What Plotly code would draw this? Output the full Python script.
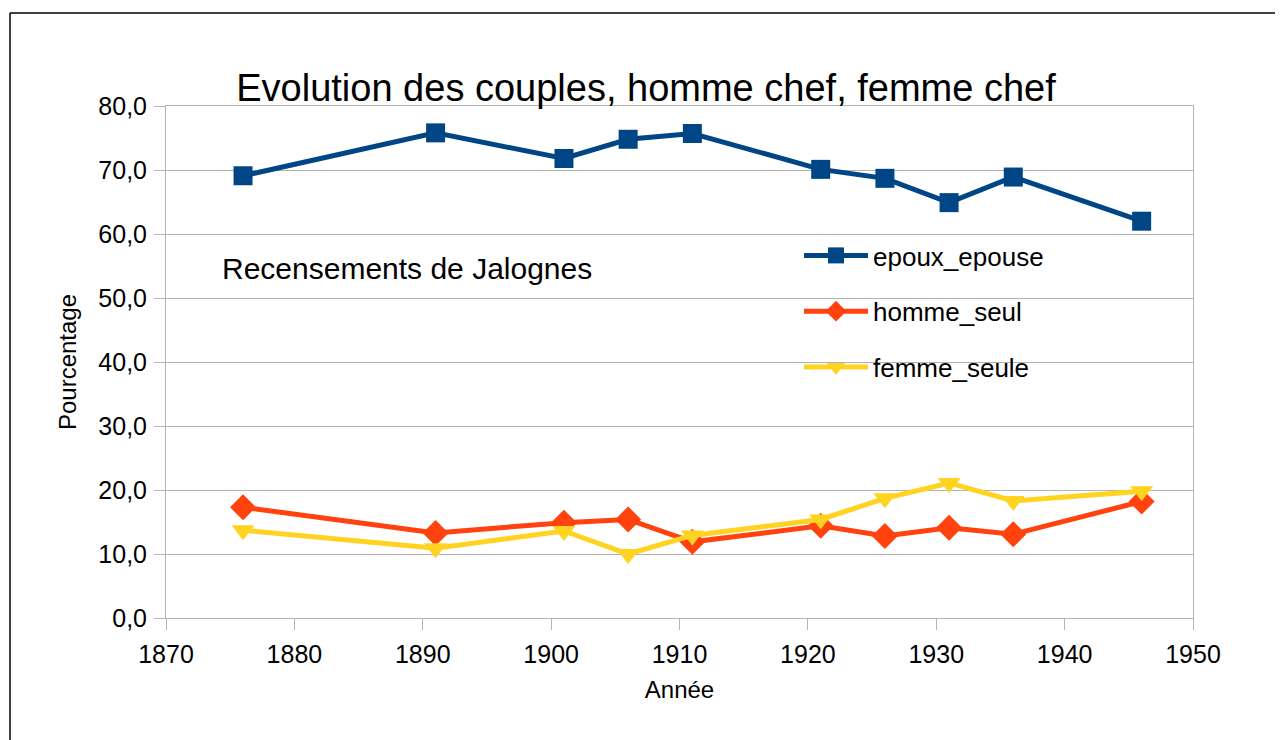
import plotly.graph_objects as go

annees = [1876, 1891, 1901, 1906, 1911, 1921, 1926, 1931, 1936, 1946]
epoux_epouse = [69.1, 75.8, 71.8, 74.8, 75.7, 70.1, 68.7, 64.9, 68.9, 62.0]
homme_seul = [17.3, 13.3, 14.9, 15.4, 11.9, 14.4, 12.8, 14.1, 13.1, 18.2]
femme_seule = [13.7, 10.9, 13.6, 10.0, 12.9, 15.4, 18.7, 21.1, 18.3, 19.8]

x_ticks = [1870, 1880, 1890, 1900, 1910, 1920, 1930, 1940, 1950]
y_ticks = [0, 10, 20, 30, 40, 50, 60, 70, 80]
y_labels = ["0,0", "10,0", "20,0", "30,0", "40,0", "50,0", "60,0", "70,0", "80,0"]

# page offset (body margin) of the rendered figure
OX, OY = 8, 8
W, H = 1283 - OX, 740 - OY
# plot area in screen pixels: x 166..1193, y 106..618
ML, MT = 166 - OX, 106 - OY
PW, PH = 1027, 512
MR, MB = W - ML - PW, H - MT - PH

def px(sx):
    return (sx - OX - ML) / PW

def py(sy):
    return (MT + PH - (sy - OY)) / PH

FONT = "Liberation Sans, Arial, sans-serif"

fig = go.Figure()
fig.add_trace(go.Scatter(
    x=annees, y=epoux_epouse, name="epoux_epouse", mode="lines+markers",
    line=dict(color="#004586", width=5),
    marker=dict(symbol="square", size=19, color="#004586"),
    legendgroup="a"))
fig.add_trace(go.Scatter(
    x=annees, y=homme_seul, name="homme_seul", mode="lines+markers",
    line=dict(color="#ff420e", width=5),
    marker=dict(symbol="diamond", size=20, color="#ff420e"),
    legendgroup="b"))
fig.add_trace(go.Scatter(
    x=annees, y=femme_seule, name="femme_seule", mode="lines+markers",
    line=dict(color="#ffd320", width=5),
    marker=dict(symbol="triangle-down", size=20, color="#ffd320"),
    legendgroup="c"))

grid = "#b3b3b3"
fig.update_layout(
    width=W, height=H,
    margin=dict(l=ML, r=MR, t=MT, b=MB, autoexpand=False),
    paper_bgcolor="white", plot_bgcolor="white",
    font=dict(family=FONT, color="black"),
    title=dict(text="Evolution des couples, homme chef, femme chef",
               x=(646 - OX) / W, xanchor="center", y=1 - (88 - OY) / H, yanchor="middle",
               yref="container", xref="container",
               font=dict(size=38, family=FONT, color="black")),
    xaxis=dict(range=[1870, 1950], tickvals=x_ticks, ticktext=[str(v) for v in x_ticks],
               showgrid=False, showline=True, linecolor=grid, linewidth=1, mirror=True,
               ticks="outside", ticklen=11, tickcolor=grid, tickwidth=1,
               tickfont=dict(size=25, family=FONT, color="black"),
               ticklabelstandoff=3,
               title=dict(text="Année", font=dict(size=24, family=FONT, color="black"), standoff=14),
               zeroline=False),
    yaxis=dict(range=[0, 80], tickvals=y_ticks, ticktext=y_labels,
               showgrid=True, gridcolor=grid, gridwidth=1,
               showline=True, linecolor=grid, linewidth=1, mirror=True,
               ticks="outside", ticklen=11, tickcolor=grid, tickwidth=1,
               tickfont=dict(size=25, family=FONT, color="black"),
               ticklabelstandoff=2,
               title=dict(text="Pourcentage", font=dict(size=24, family=FONT, color="black"), standoff=14),
               zeroline=False),
    legend=dict(x=px(799), y=py(232), xanchor="left", yanchor="top",
                bgcolor="rgba(0,0,0,0)", borderwidth=0,
                font=dict(size=26, family=FONT, color="black"),
                itemwidth=64, tracegroupgap=19),
    annotations=[dict(text="Recensements de Jalognes", x=px(220), y=py(268),
                      xref="paper", yref="paper", xanchor="left", yanchor="middle",
                      showarrow=False, font=dict(size=30, family=FONT, color="black"))],
    shapes=[
        dict(type="line", xref="paper", yref="paper", x0=px(10), x1=px(1290), y0=py(13), y1=py(13),
             line=dict(color="black", width=1.5)),
        dict(type="line", xref="paper", yref="paper", x0=px(10), x1=px(10), y0=py(13), y1=py(745),
             line=dict(color="black", width=1.5)),
    ],
)

fig.write_html("out.html")
